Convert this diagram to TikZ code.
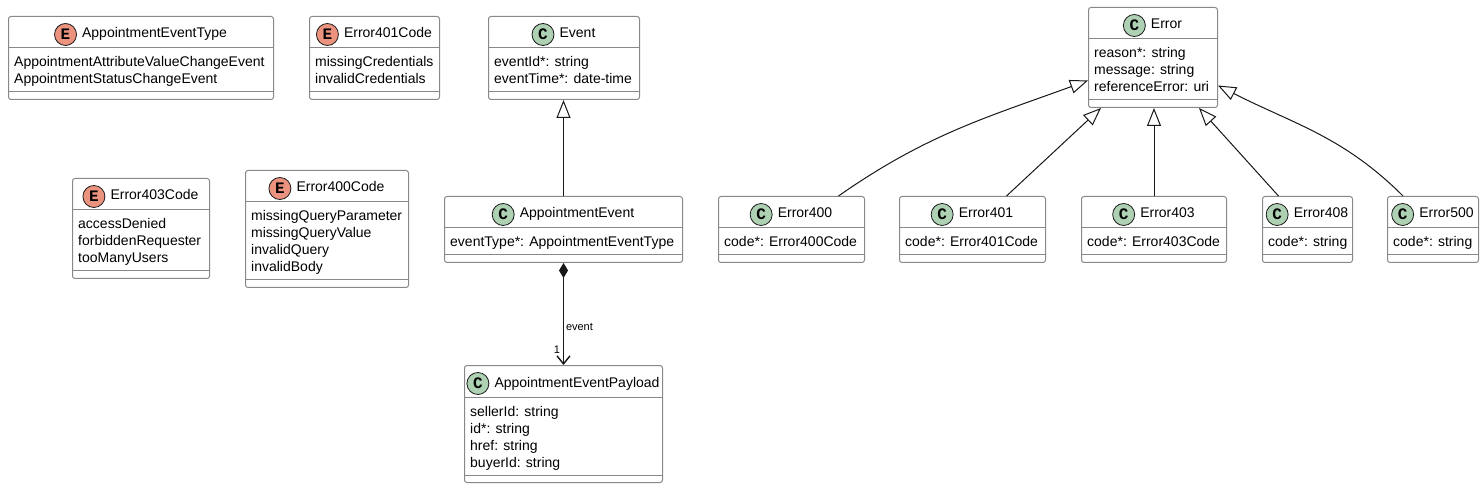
\documentclass[tikz,border=0pt]{standalone}
\usepackage{fontspec}
\setmainfont{Liberation Sans}
\newfontfamily\spotfont{Liberation Mono}
\usetikzlibrary{positioning,arrows.meta}

\definecolor{boxline}{HTML}{888888}
\definecolor{edgeline}{HTML}{181818}
\definecolor{classspot}{HTML}{ADD1B2}
\definecolor{enumspot}{HTML}{EB937F}

% name, left, top, width, lines, letter, spot colour, title, fields
\newcommand{\umlclass}[9]{%
  \pgfmathsetmacro{\boxh}{49+17*#5}%
  \node[classbox, minimum width=#4pt, minimum height=\boxh pt] (#1) at (#2,#3) {};
  \draw[sepline] ([yshift=-32pt]#1.north west) -- ([yshift=-32pt]#1.north east);
  \draw[sepline] ([yshift=8pt]#1.south west) -- ([yshift=8pt]#1.south east);
  \node[classtitle] (#1-title) at ([xshift=13.5pt, yshift=-22pt]#1.north) {#8};
  \node[spot, fill=#7, left=5pt of #1-title] (#1-spot) {#6};
  \foreach \fieldtext [count=\i] in {#9}
    \node[field] at ([xshift=6pt, yshift=-51pt-17pt*(\i-1)]#1.north west) {\fieldtext};
}

\begin{document}
\begin{tikzpicture}[x=1pt, y=-1pt,
    classbox/.style={draw=boxline, fill=white, line width=1pt,
        rounded corners=2.5pt, inner sep=0pt, anchor=north west},
    sepline/.style={draw=boxline, line width=1pt},
    classtitle/.style={anchor=base, inner sep=0pt, text height=10pt,
        text depth=3pt, font=\fontsize{14}{17}\selectfont},
    spot/.style={circle, draw=edgeline, line width=0.8pt, minimum size=22pt,
        inner sep=0pt, font=\spotfont\bfseries\fontsize{16}{16}\selectfont},
    field/.style={anchor=base west, inner sep=0pt, font=\fontsize{14}{17}\selectfont},
    extends/.style={draw=edgeline, line width=1pt,
        -{Triangle[open, length=18pt, width=14pt]}},
    composes/.style={draw=edgeline, line width=1pt,
        {Diamond[length=15pt, width=9pt]}-{Straight Barb[length=8pt, width=13pt, line width=1.4pt]}},
    edgelabel/.style={inner sep=0pt, font=\fontsize{11}{13}\selectfont}]

    \fill[white] (0,0) rectangle (1484,489);
    \useasboundingbox (0,0) rectangle (1484,489);

    \umlclass{evtype}{8}{16}{265}{2}{E}{enumspot}{AppointmentEventType}
        {AppointmentAttributeValueChangeEvent, AppointmentStatusChangeEvent}
    \umlclass{code401}{309}{16}{130}{2}{E}{enumspot}{Error401Code}
        {missingCredentials, invalidCredentials}
    \umlclass{event}{488}{16}{151}{2}{C}{classspot}{Event}
        {eventId*: string, eventTime*: date-time}
    \umlclass{code403}{72}{178}{137}{3}{E}{enumspot}{Error403Code}
        {accessDenied, forbiddenRequester, tooManyUsers}
    \umlclass{code400}{245}{170}{163}{4}{E}{enumspot}{Error400Code}
        {missingQueryParameter, missingQueryValue, invalidQuery, invalidBody}
    \umlclass{apptevent}{444}{196}{238}{1}{C}{classspot}{AppointmentEvent}
        {eventType*: AppointmentEventType}
    \umlclass{payload}{464}{365}{198}{4}{C}{classspot}{AppointmentEventPayload}
        {sellerId: string, id*: string, href: string, buyerId: string}
    \umlclass{error}{1088}{7}{129}{3}{C}{classspot}{Error}
        {reason*: string, message: string, referenceError: uri}
    \umlclass{err400}{718}{196}{146}{1}{C}{classspot}{Error400}{code*: Error400Code}
    \umlclass{err401}{899}{196}{146}{1}{C}{classspot}{Error401}{code*: Error401Code}
    \umlclass{err403}{1081}{196}{145}{1}{C}{classspot}{Error403}{code*: Error403Code}
    \umlclass{err408}{1262}{196}{90}{1}{C}{classspot}{Error408}{code*: string}
    \umlclass{err500}{1387}{196}{91}{1}{C}{classspot}{Error500}{code*: string}

    \draw[extends] (apptevent.north) -- (apptevent.north |- event.south);
    \draw[composes] (apptevent.south) -- (payload.north)
        node[edgelabel, pos=0.63, anchor=west, xshift=2pt] {event}
        node[edgelabel, pos=0.85, anchor=east, xshift=-3pt] {1};

    \draw[extends] ([xshift=47pt]err400.north)
        to[out=35, in=200] ([yshift=-23pt]error.west);
    \draw[extends] ([xshift=34pt]err401.north) -- ([xshift=-52pt]error.south);
    \draw[extends] (err403.north) -- (err403.north |- error.south);
    \draw[extends] ([xshift=-29pt]err408.north) -- ([xshift=46pt]error.south);
    \draw[extends] ([xshift=-30pt]err500.north)
        to[out=135, in=-27] ([yshift=-28pt]error.east);
\end{tikzpicture}
\end{document}
